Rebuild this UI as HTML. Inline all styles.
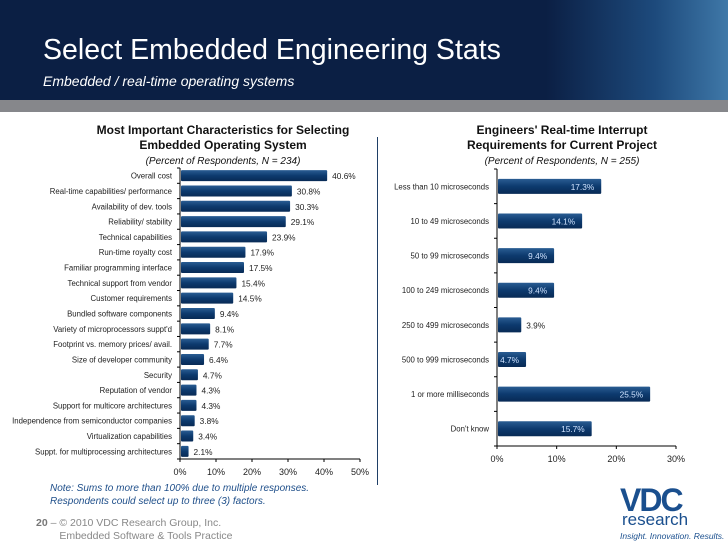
<!DOCTYPE html>
<html><head><meta charset="utf-8"><style>
body{margin:0;width:728px;height:546px;overflow:hidden;background:#fff;font-family:"Liberation Sans",sans-serif;position:relative}
.a{position:absolute;white-space:nowrap}
</style></head><body>
<div class="a" style="left:0;top:0;width:728px;height:100px;background:linear-gradient(90deg,#0b1f44 0%,#0b1f44 75%,#1d4a7c 90%,#3f78a8 100%)"></div>
<div class="a" style="left:0;top:100px;width:728px;height:12px;background:#86878b"></div>
<div class="a" style="left:43px;top:34px;font-size:28.5px;color:#fff">Select Embedded Engineering Stats</div>
<div class="a" style="left:43px;top:73px;font-size:14px;font-style:italic;color:#fff">Embedded / real-time operating systems</div>
<div class="a" style="left:377px;top:137px;width:1px;height:348px;background:#1f3f66"></div>
<div class="a" style="left:73px;top:123px;width:300px;text-align:center;font-size:12px;font-weight:bold;line-height:15px;color:#111">Most Important Characteristics for Selecting<br>Embedded Operating System<br><span style="font-weight:normal;font-style:italic;font-size:10px">(Percent of Respondents, N = 234)</span></div>
<div class="a" style="left:412px;top:123px;width:300px;text-align:center;font-size:12px;font-weight:bold;line-height:15px;color:#111">Engineers' Real-time Interrupt<br>Requirements for Current Project<br><span style="font-weight:normal;font-style:italic;font-size:10px">(Percent of Respondents, N = 255)</span></div>
<svg class="a" style="left:0;top:0" width="728" height="546" id="svg">
<defs><linearGradient id="g" x1="0" y1="0" x2="0" y2="1"><stop offset="0" stop-color="#2a5d93"/><stop offset="0.5" stop-color="#0d3a6e"/><stop offset="1" stop-color="#082a55"/></linearGradient></defs>
</svg>
<div class="a" style="left:50px;top:482px;font-size:10px;font-style:italic;color:#1f4f8a;line-height:13px">Note: Sums to more than 100% due to multiple responses.<br>Respondents could select up to three (3) factors.</div>
<div class="a" style="left:36px;top:517px;font-size:10.5px;color:#888;line-height:13px"><b style="color:#777">20</b> – © 2010 VDC Research Group, Inc.<br>&nbsp;&nbsp;&nbsp;&nbsp;&nbsp;&nbsp;&nbsp;&nbsp;Embedded Software &amp; Tools Practice</div>
<div class="a" style="left:620px;top:482px;font-size:32px;font-weight:bold;color:#1a4f8e;letter-spacing:-2px">VDC</div>
<div class="a" style="left:622px;top:510px;font-size:17px;color:#1a4f8e">research</div>
<div class="a" style="left:620px;top:531px;font-size:8.5px;font-style:italic;color:#1a4f8e">Insight. Innovation. Results.</div>
<script>
const leftCats=["Overall cost","Real-time capabilities/ performance","Availability of dev. tools","Reliability/ stability","Technical capabilities","Run-time royalty cost","Familiar programming interface","Technical support from vendor","Customer requirements","Bundled software components","Variety of microprocessors suppt'd","Footprint vs. memory prices/ avail.","Size of developer community","Security","Reputation of vendor","Support for multicore architectures","Independence from semiconductor companies","Virtualization capabilities","Suppt. for multiprocessing architectures"];
const leftVals=[40.6,30.8,30.3,29.1,23.9,17.9,17.5,15.4,14.5,9.4,8.1,7.7,6.4,4.7,4.3,4.3,3.8,3.4,2.1];
const leftTicks=[0,10,20,30,40,50];
const rightCats=["Less than 10 microseconds","10 to 49 microseconds","50 to 99 microseconds","100 to 249 microseconds","250 to 499 microseconds","500 to 999 microseconds","1 or more milliseconds","Don't know"];
const rightVals=[17.3,14.1,9.4,9.4,3.9,4.7,25.5,15.7];
const rightTicks=[0,10,20,30];
const svg=document.getElementById('svg');const NS='http://www.w3.org/2000/svg';
function el(t,a,txt){const e=document.createElementNS(NS,t);for(const k in a)e.setAttribute(k,a[k]);if(txt!==undefined)e.textContent=txt;svg.appendChild(e);return e;}
function chart(cats,vals,ticks,x0,x1,max,top,bottom,bh,fs,inside,prefix){
 const xs=v=>x0+(x1-x0)*v/max;const step=(bottom-top)/cats.length;const yc=i=>top+step*(i+0.5);
 let e=el('line',{x1:x0,y1:top,x2:x0,y2:bottom,stroke:'#000','stroke-width':1});
 
 e=el('line',{x1:x0,y1:bottom,x2:x1,y2:bottom,stroke:'#000','stroke-width':1});
 
 for(let i=0;i<=cats.length;i++){el('line',{x1:x0-3,x2:x0,y1:top+step*i,y2:top+step*i,stroke:'#000'});}
 ticks.forEach(t=>{el('line',{x1:xs(t),x2:xs(t),y1:bottom,y2:bottom+3,stroke:'#000'});
  e=el('text',{x:xs(t),y:bottom+16,'font-size':9,'text-anchor':'middle',fill:'#222'},t+'%');
  });
 cats.forEach((c,i)=>{const y=yc(i),v=vals[i];
  e=el('text',{x:x0-8,y:y+3,'font-size':fs,'text-anchor':'end',fill:'#222'},c);
  
  e=el('rect',{x:x0+1,y:y-bh/2,width:xs(v)-x0,height:bh,fill:'url(#g)',rx:1});
  
  const ins=inside&&v>4;
  e=el('text',{x:ins?xs(v)-6:xs(v)+6,y:y+3.5,'font-size':fs+0.5,'text-anchor':ins?'end':'start',fill:ins?'#cfe3ff':'#222'},v.toFixed(1)+'%');
  });
}
chart(leftCats,leftVals,leftTicks,180,360,50,168,459,11,7.8,false,'left');
chart(rightCats,rightVals,rightTicks,497,676,30,169,446,15,7.8,true,'right');
</script>
</body></html>
